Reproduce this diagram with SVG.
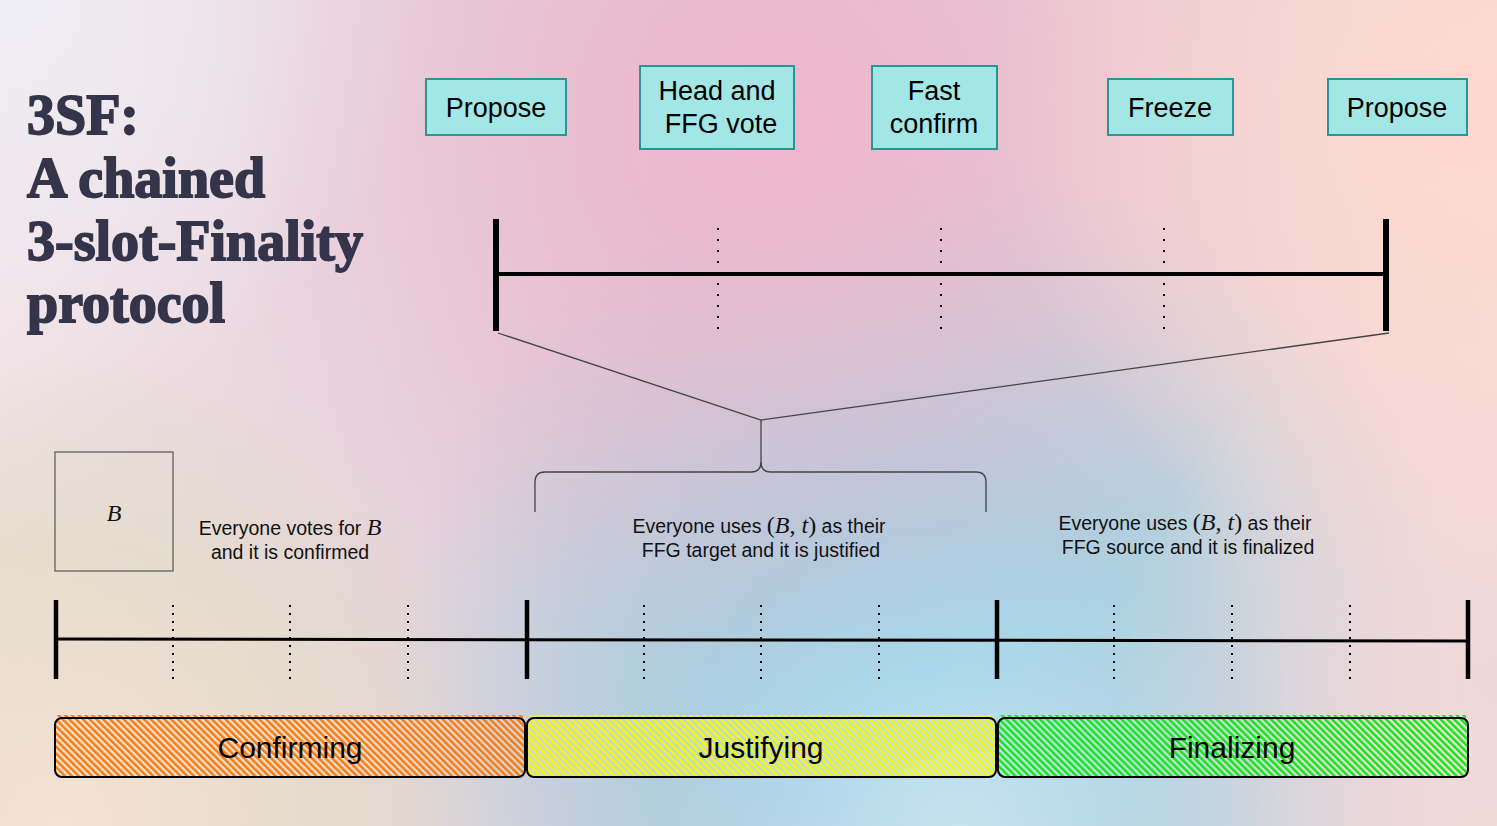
<svg xmlns="http://www.w3.org/2000/svg" width="1497" height="826" viewBox="0 0 1497 826">
<style>
.title{font-family:"Liberation Serif","DejaVu Serif",serif;font-weight:bold;font-size:56px;fill:#34344a;stroke:#34344a;stroke-width:1.8px}
.box rect{fill:#a3e6e6;stroke:#2a9595;stroke-width:2}
.box text{font-family:"Liberation Sans",Arial,sans-serif;font-size:27px;fill:#000;text-anchor:middle}
.lbl{font-family:"Liberation Sans",Arial,sans-serif;font-size:19.5px;fill:#111;text-anchor:middle}
.math{font-family:"Liberation Serif","DejaVu Serif",serif;font-size:24px;font-style:italic}
.mathr{font-family:"Liberation Serif","DejaVu Serif",serif;font-size:24px}
.axis{stroke:#000;fill:none}
.dot{stroke:#000;stroke-width:2}
.barlbl{font-family:"Liberation Sans",Arial,sans-serif;font-size:30px;fill:#000;text-anchor:middle}
</style>
<defs>
<linearGradient id="bg0" x1="0" y1="0" x2="1" y2="0">
<stop offset="0" stop-color="#f2e2e6"/>
<stop offset="0.5" stop-color="#dcc6d4"/>
<stop offset="1" stop-color="#f6dcd8"/>
</linearGradient>
<radialGradient id="gPink" cx="780" cy="130" r="560" gradientUnits="userSpaceOnUse">
<stop offset="0" stop-color="#efb6cc" stop-opacity="1"/>
<stop offset="1" stop-color="#efb6cc" stop-opacity="0"/>
</radialGradient>
<radialGradient id="gPeach" cx="1480" cy="120" r="480" gradientUnits="userSpaceOnUse">
<stop offset="0" stop-color="#fdd8d0" stop-opacity="1"/>
<stop offset="1" stop-color="#fdd8d0" stop-opacity="0"/>
</radialGradient>
<radialGradient id="gBlue" cx="930" cy="690" r="540" gradientUnits="userSpaceOnUse">
<stop offset="0" stop-color="#8fd0e8" stop-opacity="1"/>
<stop offset="0.55" stop-color="#a4d0e0" stop-opacity="0.75"/>
<stop offset="1" stop-color="#a8d4e2" stop-opacity="0"/>
</radialGradient>
<radialGradient id="gBeige" cx="60" cy="826" r="480" gradientUnits="userSpaceOnUse">
<stop offset="0" stop-color="#f4e2d4" stop-opacity="1"/>
<stop offset="0.6" stop-color="#e4dcc8" stop-opacity="0.75"/>
<stop offset="1" stop-color="#dcd8c6" stop-opacity="0"/>
</radialGradient>
<radialGradient id="gWhite" cx="0" cy="0" r="420" gradientUnits="userSpaceOnUse">
<stop offset="0" stop-color="#eeeef4" stop-opacity="1"/>
<stop offset="1" stop-color="#eeeef4" stop-opacity="0"/>
</radialGradient>
<radialGradient id="gRB" cx="1497" cy="680" r="380" gradientUnits="userSpaceOnUse">
<stop offset="0" stop-color="#f0d8da" stop-opacity="1"/>
<stop offset="1" stop-color="#f0d8da" stop-opacity="0"/>
</radialGradient>
<radialGradient id="gLB" cx="960" cy="826" r="300" gradientUnits="userSpaceOnUse">
<stop offset="0" stop-color="#c6e2f0" stop-opacity="1"/>
<stop offset="1" stop-color="#c6e2f0" stop-opacity="0"/>
</radialGradient>
<pattern id="hOrange" patternUnits="userSpaceOnUse" width="4.8" height="4.8" patternTransform="rotate(-45)">
<rect width="4.8" height="4.8" fill="#ffffff" fill-opacity="0.12"/>
<rect width="2.5" height="4.8" fill="#fb7a0a"/>
</pattern>
<pattern id="hYellow" patternUnits="userSpaceOnUse" width="4.8" height="4.8" patternTransform="rotate(-45)">
<rect width="4.8" height="4.8" fill="#ffffff" fill-opacity="0.12"/>
<rect width="2.5" height="4.8" fill="#f8f800"/>
</pattern>
<pattern id="hGreen" patternUnits="userSpaceOnUse" width="4.8" height="4.8" patternTransform="rotate(-45)">
<rect width="4.8" height="4.8" fill="#ffffff" fill-opacity="0.12"/>
<rect width="2.5" height="4.8" fill="#12e812"/>
</pattern>
</defs>

<g id="background">
<rect width="1497" height="826" fill="url(#bg0)"/>
<rect width="1497" height="826" fill="url(#gBeige)"/>
<rect width="1497" height="826" fill="url(#gBlue)"/>
<rect width="1497" height="826" fill="url(#gLB)"/>
<rect width="1497" height="826" fill="url(#gRB)"/>
<rect width="1497" height="826" fill="url(#gPink)"/>
<rect width="1497" height="826" fill="url(#gPeach)"/>
<rect width="1497" height="826" fill="url(#gWhite)"/>
</g>

<g id="title">
<text class="title" x="27" y="134">3SF:</text>
<text class="title" x="27" y="197">A chained</text>
<text class="title" x="27" y="260">3-slot-Finality</text>
<text class="title" x="27" y="322">protocol</text>
</g>

<g id="step-propose-1" class="box">
<rect x="426" y="79" width="140" height="56"/>
<text x="496" y="117">Propose</text>
</g>
<g id="step-head-ffg" class="box">
<rect x="640" y="66" width="154" height="83"/>
<text x="717" y="100">Head and</text>
<text x="721" y="133">FFG vote</text>
</g>
<g id="step-fast-confirm" class="box">
<rect x="872" y="66" width="125" height="83"/>
<text x="934" y="100">Fast</text>
<text x="934" y="133">confirm</text>
</g>
<g id="step-freeze" class="box">
<rect x="1108" y="79" width="125" height="56"/>
<text x="1170" y="117">Freeze</text>
</g>
<g id="step-propose-2" class="box">
<rect x="1328" y="79" width="139" height="56"/>
<text x="1397" y="117">Propose</text>
</g>

<g id="slot-timeline">
<line class="axis" x1="496" y1="274" x2="1386" y2="274" stroke-width="4"/>
<line class="axis" x1="496" y1="219" x2="496" y2="331" stroke-width="6"/>
<line class="axis" x1="1386" y1="219" x2="1386" y2="331" stroke-width="6"/>
<line class="dot" x1="718" y1="228" x2="718" y2="332" stroke-dasharray="2 9"/>
<line class="dot" x1="941" y1="228" x2="941" y2="332" stroke-dasharray="2 9"/>
<line class="dot" x1="1164" y1="228" x2="1164" y2="332" stroke-dasharray="2 9"/>
</g>

<g id="connectors" fill="none" stroke="#444" stroke-width="1.3">
<polyline points="498,333 761,420 1389,333"/>
<path d="M761,420 L761,462 Q761,472 751,472 L545,472 Q535,472 535,482 L535,512"/>
<path d="M761,462 Q761,472 771,472 L976,472 Q986,472 986,482 L986,512"/>
</g>

<g id="block-B">
<rect x="55" y="452" width="118" height="119" fill="none" stroke="#555" stroke-width="1.2"/>
<text x="114" y="521" class="math" text-anchor="middle" fill="#111">B</text>
</g>

<g id="label-confirm">
<text class="lbl" x="290" y="535">Everyone votes for <tspan class="math">B</tspan></text>
<text class="lbl" x="290" y="559">and it is confirmed</text>
</g>
<g id="label-justify">
<text class="lbl" x="759" y="533">Everyone uses <tspan class="mathr">(</tspan><tspan class="math">B</tspan><tspan class="mathr">, </tspan><tspan class="math">t</tspan><tspan class="mathr">)</tspan> as their</text>
<text class="lbl" x="761" y="557">FFG target and it is justified</text>
</g>
<g id="label-finalize">
<text class="lbl" x="1185" y="530">Everyone uses <tspan class="mathr">(</tspan><tspan class="math">B</tspan><tspan class="mathr">, </tspan><tspan class="math">t</tspan><tspan class="mathr">)</tspan> as their</text>
<text class="lbl" x="1188" y="554">FFG source and it is finalized</text>
</g>

<g id="epoch-timeline">
<line class="axis" x1="56" y1="639" x2="1468" y2="641" stroke-width="3"/>
<line class="axis" x1="56" y1="600" x2="56" y2="679" stroke-width="4.5"/>
<line class="axis" x1="527" y1="600" x2="527" y2="679" stroke-width="4.5"/>
<line class="axis" x1="997" y1="600" x2="997" y2="679" stroke-width="4.5"/>
<line class="axis" x1="1468" y1="600" x2="1468" y2="679" stroke-width="4.5"/>
<g stroke-dasharray="2 6">
<line class="dot" x1="173" y1="605" x2="173" y2="680"/>
<line class="dot" x1="290" y1="605" x2="290" y2="680"/>
<line class="dot" x1="408" y1="605" x2="408" y2="680"/>
<line class="dot" x1="644" y1="605" x2="644" y2="680"/>
<line class="dot" x1="761" y1="605" x2="761" y2="680"/>
<line class="dot" x1="879" y1="605" x2="879" y2="680"/>
<line class="dot" x1="1114" y1="605" x2="1114" y2="680"/>
<line class="dot" x1="1232" y1="605" x2="1232" y2="680"/>
<line class="dot" x1="1350" y1="605" x2="1350" y2="680"/>
</g>
</g>

<g id="phase-confirming">
<rect x="57" y="715" width="466" height="4" fill="url(#hOrange)"/>
<rect x="55" y="718" width="470" height="59" rx="7" fill="url(#hOrange)" stroke="#000" stroke-width="2"/>
<text class="barlbl" x="290" y="758">Confirming</text>
</g>
<g id="phase-justifying">
<rect x="529" y="715" width="465" height="4" fill="url(#hYellow)"/>
<rect x="527" y="718" width="469" height="59" rx="7" fill="url(#hYellow)" stroke="#000" stroke-width="2"/>
<text class="barlbl" x="761" y="758">Justifying</text>
</g>
<g id="phase-finalizing">
<rect x="1000" y="715" width="466" height="4" fill="url(#hGreen)"/>
<rect x="998" y="718" width="470" height="59" rx="7" fill="url(#hGreen)" stroke="#000" stroke-width="2"/>
<text class="barlbl" x="1232" y="758">Finalizing</text>
</g>
</svg>
